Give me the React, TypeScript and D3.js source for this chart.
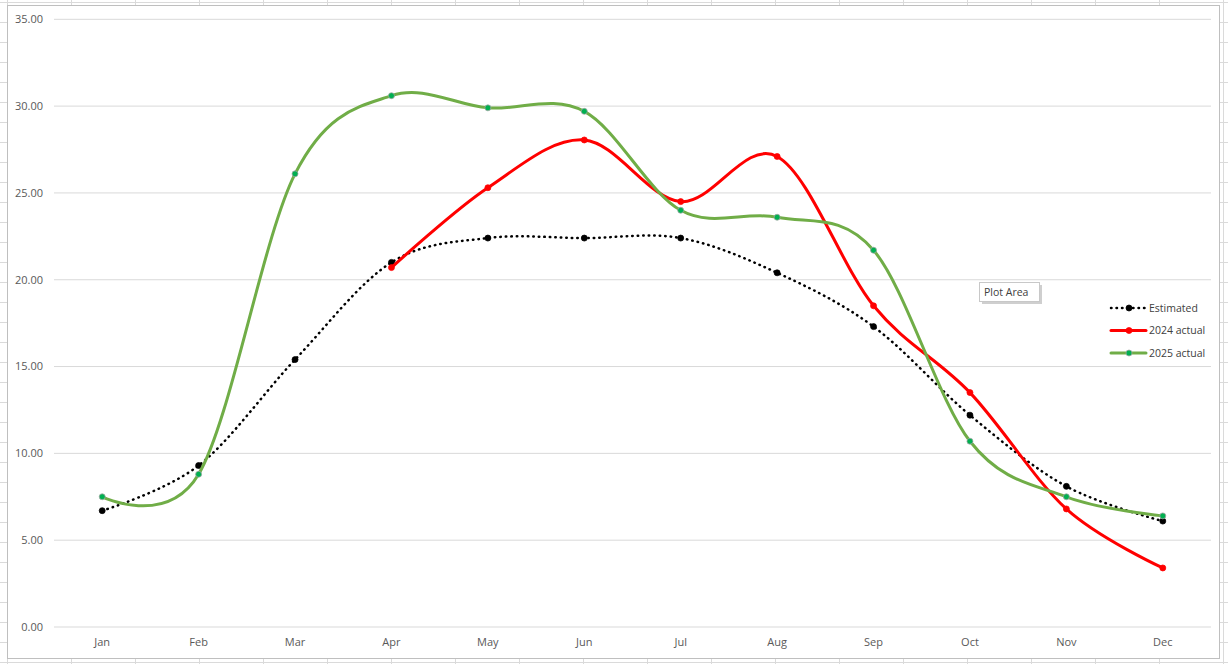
import React from 'react';
import * as d3 from 'd3';

const months = ['Jan', 'Feb', 'Mar', 'Apr', 'May', 'Jun', 'Jul', 'Aug', 'Sep', 'Oct', 'Nov', 'Dec'];
const estimated = [6.7, 9.3, 15.4, 21.0, 22.4, 22.4, 22.4, 20.4, 17.3, 12.2, 8.1, 6.1];
const actual2024: (number | null)[] = [null, null, null, 20.7, 25.3, 28.05, 24.5, 27.1, 18.5, 13.5, 6.8, 3.4];
const actual2025 = [7.5, 8.8, 26.1, 30.6, 29.9, 29.7, 24.0, 23.6, 21.7, 10.7, 7.5, 6.4];
const yTicks = [0, 5, 10, 15, 20, 25, 30, 35];

const W = 1228;
const H = 664;
const font = '"Open Sans", "Noto Sans", sans-serif';

export default function App() {
  const x = d3.scaleBand().domain(months).range([54, 1211]);
  const y = d3.scaleLinear().domain([0, 35]).range([627, 19.3]);
  const cx = (m: string) => (x(m) as number) + x.bandwidth() / 2;

  const line = d3
    .line<number | null>()
    .defined(d => d != null)
    .x((_, i) => cx(months[i]))
    .y(d => y(d as number))
    .curve(d3.curveCardinal.tension(0));

  const series = [
    { name: 'Estimated', values: estimated as (number | null)[], stroke: '#000000', width: 2.5, dash: '0.5 5', marker: '#000000', mstroke: '#000000' },
    { name: '2024 actual', values: actual2024, stroke: '#ff0000', width: 3, dash: undefined, marker: '#ff0000', mstroke: '#ff0000' },
    { name: '2025 actual', values: actual2025 as (number | null)[], stroke: '#70ad47', width: 3, dash: undefined, marker: '#00b050', mstroke: '#a6a6a6' },
  ];

  const cols = d3.range(7, W + 1, 64);
  const rows = d3.range(2, H + 1, 20);

  return (
    <svg width={W} height={H} style={{ position: 'absolute', left: 0, top: 0, background: '#fff' }}>
      {/* spreadsheet grid behind the chart */}
      {cols.map(c => (
        <line key={'c' + c} x1={c + 0.5} x2={c + 0.5} y1={0} y2={H} stroke="#dadada" />
      ))}
      {rows.map(r => (
        <line key={'r' + r} x1={0} x2={W} y1={r + 0.5} y2={r + 0.5} stroke="#dadada" />
      ))}
      <rect x={7.5} y={5.5} width={1212} height={653} fill="#fff" stroke="#bfbfbf" />

      {/* gridlines + y labels */}
      {yTicks.map(t => (
        <g key={t}>
          <line x1={54} x2={1211} y1={y(t)} y2={y(t)} stroke="#d9d9d9" />
          <text x={43} y={y(t)} dy="0.35em" textAnchor="end" fontFamily={font} fontSize={11} fill="#595959">
            {t.toFixed(2)}
          </text>
        </g>
      ))}

      {/* x labels */}
      {months.map(m => (
        <text key={m} x={cx(m)} y={646} textAnchor="middle" fontFamily={font} fontSize={11} fill="#595959">
          {m}
        </text>
      ))}

      {/* series */}
      {series.map(s => (
        <g key={s.name}>
          <path
            d={line(s.values) || ''}
            fill="none"
            stroke={s.stroke}
            strokeWidth={s.width}
            strokeDasharray={s.dash}
            strokeLinecap="round"
          />
          {s.values.map((v, i) =>
            v == null ? null : (
              <circle key={i} cx={cx(months[i])} cy={y(v)} r={3} fill={s.marker} stroke={s.mstroke} strokeWidth={0.75} />
            )
          )}
        </g>
      ))}

      {/* legend */}
      {series.map((s, i) => {
        const ly = 308 + i * 22.5;
        return (
          <g key={'l' + s.name}>
            <line x1={1111} x2={1146} y1={ly} y2={ly} stroke={s.stroke} strokeWidth={s.width} strokeDasharray={s.dash} strokeLinecap="round" />
            <circle cx={1129} cy={ly} r={3} fill={s.marker} stroke={s.mstroke} strokeWidth={0.75} />
            <text x={1149} y={ly} dy="0.35em" fontFamily={font} fontSize={10.5} fill="#404040">
              {s.name}
            </text>
          </g>
        );
      })}

      {/* Plot Area tooltip */}
      <rect x={982} y={285} width={60} height={19} fill="#a0a0a0" opacity={0.5} />
      <rect x={979.5} y={282.5} width={60} height={19} fill="#fff" stroke="#c8c8c8" />
      <text x={984} y={292} dy="0.35em" fontFamily={font} fontSize={10.5} fill="#404040">
        Plot Area
      </text>
    </svg>
  );
}
